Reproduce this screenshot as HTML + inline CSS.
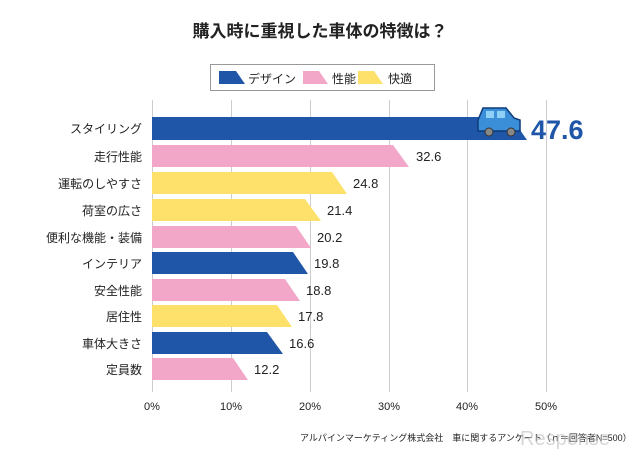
<!DOCTYPE html>
<html><head><meta charset="utf-8"><style>
body{margin:0;background:#fff;}
svg text{font-family:"Liberation Sans","Noto Sans CJK JP",sans-serif;}
</style></head><body>
<svg width="640" height="457" viewBox="0 0 640 457" xmlns="http://www.w3.org/2000/svg">
<text x="320" y="37" text-anchor="middle" font-size="17" font-weight="bold" fill="#222">購入時に重視した車体の特徴は？</text>
<rect x="210.5" y="64.5" width="224" height="26" fill="#fff" stroke="#999"/>
<polygon points="219,71 236,71 245,84 219,84" fill="#1f56a8"/>
<text x="248" y="83" font-size="12" fill="#222">デザイン</text>
<polygon points="303,71 319,71 328,84 303,84" fill="#f2a7c8"/>
<text x="332" y="83" font-size="12" fill="#222">性能</text>
<polygon points="358,71 374,71 383,84 358,84" fill="#fde16a"/>
<text x="388" y="83" font-size="12" fill="#222">快適</text>
<g stroke="#ccc" stroke-width="1">
<line x1="152.5" y1="100" x2="152.5" y2="392"/>
<line x1="231.5" y1="100" x2="231.5" y2="392"/>
<line x1="310.5" y1="100" x2="310.5" y2="392"/>
<line x1="389.5" y1="100" x2="389.5" y2="392"/>
<line x1="467.5" y1="100" x2="467.5" y2="392"/>
<line x1="546.5" y1="100" x2="546.5" y2="392"/>
</g>
<g font-size="11" fill="#222" text-anchor="middle">
<text x="152" y="410">0%</text><text x="231" y="410">10%</text><text x="310" y="410">20%</text><text x="389" y="410">30%</text><text x="467" y="410">40%</text><text x="546" y="410">50%</text>
</g>
<g font-size="12" fill="#222" text-anchor="end">
<text x="142" y="133">スタイリング</text>
<text x="142" y="161">走行性能</text>
<text x="142" y="188">運転のしやすさ</text>
<text x="142" y="215">荷室の広さ</text>
<text x="142" y="242">便利な機能・装備</text>
<text x="142" y="268">インテリア</text>
<text x="142" y="295">安全性能</text>
<text x="142" y="321">居住性</text>
<text x="142" y="348">車体大きさ</text>
<text x="142" y="374">定員数</text>
</g>
<polygon points="152,117 511,117 527,140 152,140" fill="#1f56a8"/>
<polygon points="152,145 393,145 409,167 152,167" fill="#f2a7c8"/>
<polygon points="152,172 332,172 347,194 152,194" fill="#fde16a"/>
<polygon points="152,199 305,199 321,221 152,221" fill="#fde16a"/>
<polygon points="152,226 296,226 311,248 152,248" fill="#f2a7c8"/>
<polygon points="152,252 293,252 308,274 152,274" fill="#1f56a8"/>
<polygon points="152,279 285,279 300,301 152,301" fill="#f2a7c8"/>
<polygon points="152,305 277,305 292,327 152,327" fill="#fde16a"/>
<polygon points="152,332 267,332 283,354 152,354" fill="#1f56a8"/>
<polygon points="152,358 233,358 248,380 152,380" fill="#f2a7c8"/>
<g font-size="13" fill="#222">
<text x="416" y="161">32.6</text>
<text x="353" y="188">24.8</text>
<text x="327" y="215">21.4</text>
<text x="317" y="242">20.2</text>
<text x="314" y="268">19.8</text>
<text x="306" y="295">18.8</text>
<text x="298" y="321">17.8</text>
<text x="289" y="348">16.6</text>
<text x="254" y="374">12.2</text>
</g>
<g>
<path d="M478,120 L483,108 L506,108 L514,118 L520,120 L520,131 L478,131 Z" fill="#3a8fd8" stroke="#0d3b7a" stroke-width="1.5"/>
<rect x="486" y="111" width="8" height="7" fill="#8fd0f5"/>
<rect x="497" y="111" width="8" height="7" fill="#8fd0f5"/>
<circle cx="489" cy="132" r="4" fill="#888" stroke="#333"/>
<circle cx="511" cy="132" r="4" fill="#888" stroke="#333"/>
</g>
<text x="531" y="139" font-size="27" font-weight="bold" fill="#1f56a8">47.6</text>
<text x="300" y="441" font-size="9" fill="#222">アルパインマーケティング株式会社　車に関するアンケート（ｎ＝回答者N=500）</text>
<text x="520" y="445" font-size="20" fill="#bbb" opacity="0.6">Response</text>
</svg>
</body></html>
